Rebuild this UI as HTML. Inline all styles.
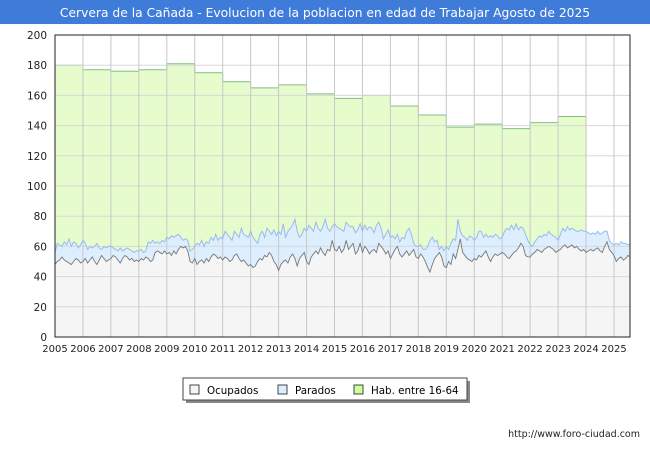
<!DOCTYPE html>
<html><head><meta charset="utf-8"><style>
body{margin:0;width:650px;height:450px;background:#fff;font-family:"DejaVu Sans",sans-serif;overflow:hidden}
</style></head><body>
<svg id="c" width="650" height="450" xmlns="http://www.w3.org/2000/svg" font-family="DejaVu Sans, sans-serif">
<rect x="0" y="0" width="650" height="24" fill="#3f7bd8"/>
<text x="325" y="17" fill="#fff" font-size="12.3" text-anchor="middle">Cervera de la Cañada - Evolucion de la poblacion en edad de Trabajar Agosto de 2025</text>
<g id="plot"></g>
<g>
<rect x="186" y="381" width="284" height="22" fill="#888"/>
<rect x="183" y="378" width="284" height="22" fill="#fff" stroke="#444"/>
<rect x="190" y="385" width="9" height="9" fill="#f5f5f5" stroke="#444"/>
<text x="207" y="394" font-size="10.3">Ocupados</text>
<rect x="278" y="385" width="9" height="9" fill="#ddeeff" stroke="#444"/>
<text x="295" y="394" font-size="10.3">Parados</text>
<rect x="354" y="385" width="9" height="9" fill="#ccff99" stroke="#444"/>
<text x="371" y="394" font-size="10.3">Hab. entre 16-64</text>
</g>
<text x="640" y="437" font-size="9.5" text-anchor="end" fill="#222">http://www.foro-ciudad.com</text>
</svg>
<script>
const yearLabels=["2005","2006","2007","2008","2009","2010","2011","2012","2013","2014","2015","2016","2017","2018","2019","2020","2021","2022","2023","2024","2025"];
const yTicks=[0,20,40,60,80,100,120,140,160,180,200];
const habAnual=[180,177,176,177,181,175,169,165,167,161,158,160,153,147,139,141,138,142,146];
const ocupados=[48,50,51,53,51,50,49,48,50,52,51,49,
50,52,49,51,53,50,48,51,54,52,50,51,
52,54,53,51,49,52,54,53,51,52,50,51,
50,52,51,53,52,50,51,56,57,56,55,57,
55,56,54,57,55,58,60,59,60,57,50,49,
52,48,50,51,49,52,50,53,55,54,52,53,
51,53,52,50,51,54,55,52,50,51,49,47,
48,46,47,50,52,51,54,53,56,54,50,48,
44,48,50,51,49,53,55,52,47,52,54,56,
50,48,53,55,57,55,59,56,54,58,57,64,
58,57,60,56,58,64,58,60,62,55,57,62,
56,60,58,55,57,58,56,62,60,58,55,57,
52,55,58,60,55,53,55,57,54,56,58,53,
52,55,53,50,46,43,48,52,54,56,53,47,
46,50,48,55,52,58,65,56,54,52,51,50,
52,51,54,53,55,57,53,50,53,55,54,55,
56,55,53,52,54,56,57,59,62,60,54,53,
53,55,56,58,57,56,58,59,60,59,58,56,
57,58,60,61,59,60,61,59,60,58,57,58,
56,57,58,57,58,59,57,56,60,63,58,56,
54,50,52,53,51,52,54,53];
const activos=[56,62,61,60,63,61,65,60,63,62,59,61,
64,62,58,60,59,60,62,59,58,60,59,60,
60,59,58,57,59,57,58,59,58,57,56,57,
57,58,56,57,63,62,64,62,63,62,64,63,
66,65,67,66,67,68,66,64,65,64,57,58,
60,62,61,64,60,63,62,66,64,68,64,66,
65,70,68,66,64,70,68,66,72,68,67,66,
70,66,64,62,68,70,66,72,70,68,71,67,
70,68,75,66,70,72,74,78,70,66,68,72,
70,74,72,70,76,72,70,73,78,72,70,73,
75,73,72,71,70,76,74,73,73,69,71,75,
70,74,71,73,72,69,74,76,72,65,68,71,
66,67,65,68,63,66,65,70,72,68,62,60,
60,61,58,58,60,64,66,63,64,58,60,57,
60,58,62,65,64,78,70,67,66,64,67,66,
64,66,70,70,66,68,66,67,66,68,67,65,
66,70,72,71,74,71,75,71,73,72,68,64,
61,60,63,65,67,66,68,67,70,68,67,66,
64,68,72,70,73,71,72,71,70,70,71,70,
70,69,68,69,68,70,68,69,70,70,64,62,
61,62,61,63,62,62,61,62];
const L=55,R=630,T=35,B=337,yearW=27.95;
const X=m=>L+m/12*yearW;
const Y=v=>B-(v/200)*(B-T);
const g=document.getElementById('plot');
const NS="http://www.w3.org/2000/svg";
function mk(tag,at){const e=document.createElementNS(NS,tag);for(const k in at)e.setAttribute(k,at[k]);g.appendChild(e);return e;}
let bg=mk('rect',{x:L,y:T,width:R-L,height:B-T,fill:'#fff'});


let hp=`M${X(0)},${B}`;
habAnual.forEach((v,i)=>{hp+=` L${X(i*12)},${Y(v)} L${X(i*12+12)},${Y(v)}`;});
const endM=habAnual.length*12;
hp+=` L${X(endM)},${Y(activos[Math.min(endM,activos.length-1)])} L${X(endM)},${B} Z`;
let ha=mk('path',{d:hp,fill:'#e6fccc',stroke:'none'});


let hl='';habAnual.forEach((v,i)=>{hl+=(i?' L':'M')+`${X(i*12)},${Y(v)} L${X(i*12+12)},${Y(v)}`;});
hl+=` L${X(endM)},${Y(activos[Math.min(endM,activos.length-1)])}`;
let hln=mk('path',{d:hl,fill:'none',stroke:'#80c080','stroke-width':1});


function area(arr){let d=`M${X(0)},${B}`;arr.forEach((v,i)=>d+=` L${X(i)},${Y(v)}`);return d+` L${X(arr.length-1)},${B} Z`;}
function line(arr){let d='';arr.forEach((v,i)=>d+=(i?' L':'M')+`${X(i)},${Y(v)}`);return d;}
let pa=mk('path',{d:area(activos),fill:'#ddeeff'});


let oa=mk('path',{d:area(ocupados),fill:'#f5f5f5'});


yTicks.forEach(v=>{let l=mk('line',{x1:L,x2:R,y1:Y(v),y2:Y(v),stroke:'#d8d8d8'});


let t=mk('text',{x:L-8,y:Y(v)+4,'font-size':10.5,'text-anchor':'end',fill:'#222'});t.textContent=v;

});
yearLabels.forEach((s,i)=>{let x=X(i*12);let l=mk('line',{x1:x,x2:x,y1:T,y2:B,stroke:'#c8c8c8'});


let t=mk('text',{x:x,y:B+15,'font-size':10,'text-anchor':'middle',fill:'#222'});t.textContent=s;

});
let pl=mk('path',{d:line(activos),fill:'none',stroke:'#99bbee','stroke-width':1});


let ol=mk('path',{d:line(ocupados),fill:'none',stroke:'#777','stroke-width':0.9});


let fr=mk('rect',{x:L,y:T,width:R-L,height:B-T,fill:'none',stroke:'#222'});


</script>
</body></html>
